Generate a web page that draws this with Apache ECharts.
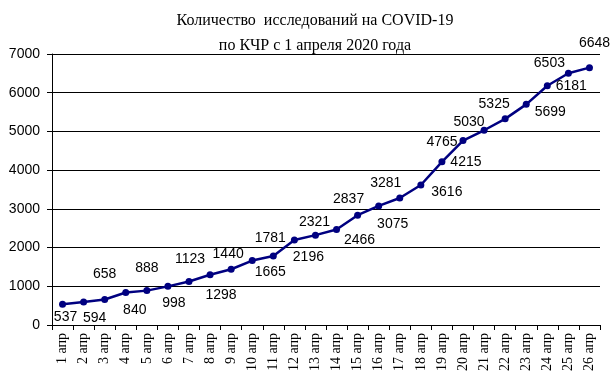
<!DOCTYPE html>
<html>
<head>
<meta charset="utf-8">
<script src="https://cdn.jsdelivr.net/npm/echarts@6/dist/echarts.min.js"></script>
<style>html,body{margin:0;padding:0;background:#fff}#c{width:614px;height:385px}</style>
</head>
<body>
<div id="c"></div>
<script>
const titleLines = ['Количество  исследований на COVID-19', 'по КЧР с 1 апреля 2020 года'];
const categories = ['1 апр','2 апр','3 апр','4 апр','5 апр','6 апр','7 апр','8 апр','9 апр','10 апр','11 апр','12 апр','13 апр','14 апр','15 апр','16 апр','17 апр','18 апр','19 апр','20 апр','21 апр','22 апр','23 апр','24 апр','25 апр','26 апр'];
const values = [537, 594, 658, 840, 888, 998, 1123, 1298, 1440, 1665, 1781, 2196, 2321, 2466, 2837, 3075, 3281, 3616, 4215, 4765, 5030, 5325, 5699, 6181, 6503, 6648];
const yTicks = [0, 1000, 2000, 3000, 4000, 5000, 6000, 7000];
// label offsets (style): [dx, dy] from each point
const labelOffsets = [[3,13],[11,16],[0,-25],[9,18],[0,-22],[6,17],[1,-22],[11,20],[-3,-15],[18,12],[-3,-18],[14,17],[-1,-13],[23,11],[-9,-16],[14,18],[-14,-15],[26,7],[24,0],[-21,2],[-15,-8],[-11,-15],[24,8],[24,0],[-19,-10],[5,-24]];

const chart = echarts.init(document.getElementById('c'));
chart.setOption({
  animation: false,
  backgroundColor: '#fff',
  title: {
    text: titleLines.join('\n'),
    left: 310, top: 3, textAlign: 'center',
    textStyle: {fontFamily: 'Liberation Serif', fontSize: 16, fontWeight: 'normal', color: '#000', lineHeight: 25}
  },
  grid: {left: 52, right: 14, top: 54, bottom: 60},
  xAxis: {
    type: 'category', data: categories, boundaryGap: true,
    axisLine: {lineStyle: {color: '#000', width: 1}},
    axisTick: {show: true, length: 5, lineStyle: {color: '#000'}, alignWithLabel: false},
    axisLabel: {rotate: 90, interval: 0, margin: 8, color: '#000', fontFamily: 'Liberation Serif', fontSize: 14}
  },
  yAxis: {
    type: 'value', min: yTicks[0], max: yTicks[yTicks.length-1], interval: 1000,
    axisLine: {show: true, lineStyle: {color: '#000', width: 1}},
    axisTick: {show: true, length: 5, lineStyle: {color: '#000'}},
    axisLabel: {margin: 12, color: '#000', fontFamily: 'Liberation Sans', fontSize: 14, formatter: v => String(v)},
    splitLine: {show: true, lineStyle: {color: '#000', width: 1}}
  },
  series: [{
    type: 'line', data: values.map((v, i) => ({
      value: v,
      label: {offset: labelOffsets[i]}
    })),
    symbol: 'circle', symbolSize: 7,
    lineStyle: {color: '#000080', width: 2.5},
    itemStyle: {color: '#000080'},
    label: {show: true, position: 'inside', align: 'center', verticalAlign: 'middle',
      color: '#000', fontFamily: 'Liberation Sans', fontSize: 14}
  }]
});
</script>
</body>
</html>
